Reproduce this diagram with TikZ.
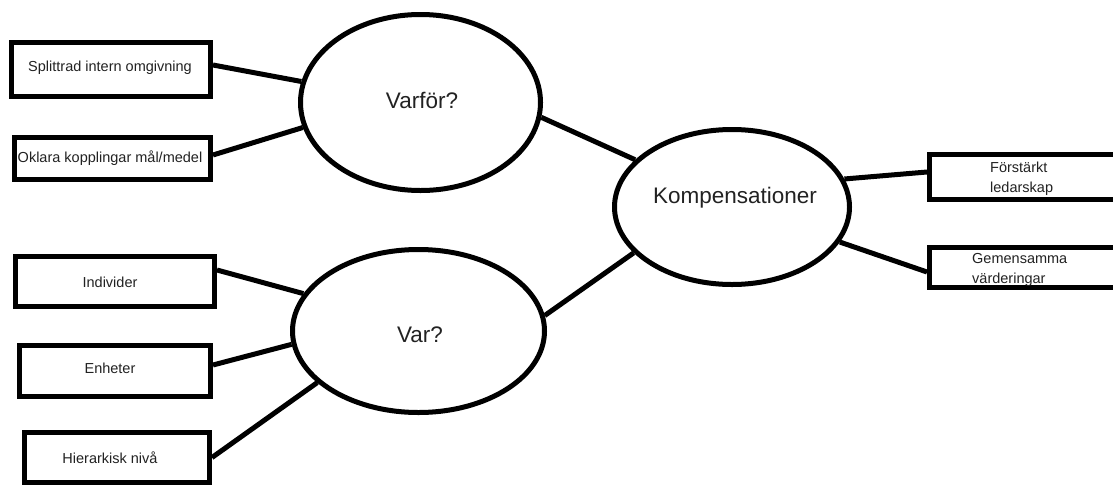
\documentclass[tikz,border=0pt]{standalone}
\usepackage{fontspec}
\setmainfont{Liberation Sans}
\usetikzlibrary{shapes.geometric}
\definecolor{txt}{HTML}{222222}
\begin{document}
\begin{tikzpicture}[x=1pt,y=-1pt,
  box/.style={draw=black,line width=5pt,rectangle,inner sep=0pt},
  oval/.style={draw=black,line width=5pt,ellipse,inner sep=0pt},
  link/.style={draw=black,line width=5pt},
  small/.style={text=txt,font=\fontsize{14.5}{20}\selectfont,inner sep=0pt},
  big/.style={text=txt,font=\fontsize{22.5}{26}\selectfont,inner sep=0pt}]
\clip (0,0) rectangle (1113,485);
\fill[white] (0,0) rectangle (1113,485);
% boxes left
\node[box,minimum width=199pt,minimum height=54pt] (b1) at (111,69.5) {};
\node[small] (t1) at (110,68) {Splittrad intern omgivning};
\node[box,minimum width=196pt,minimum height=42pt] (b2) at (112.5,158.5) {};
\node[small] (t2) at (110,158) {Oklara kopplingar mål/medel};
\node[box,minimum width=199pt,minimum height=50pt] (b3) at (115,281.5) {};
\node[small] (t3) at (110,282) {Individer};
\node[box,minimum width=191pt,minimum height=51pt] (b4) at (115,371) {};
\node[small] (t4) at (110,368) {Enheter};
\node[box,minimum width=185pt,minimum height=50pt] (b5) at (117,457.5) {};
\node[small] (t5) at (110,458) {Hierarkisk nivå};
% boxes right
\node[box,minimum width=200pt,minimum height=45pt] (b6) at (1029.5,177) {};
\node[small,anchor=base west] (t6a) at (990,172) {Förstärkt};
\node[small,anchor=base west] (t6b) at (990,192) {ledarskap};
\node[box,minimum width=200pt,minimum height=40pt] (b7) at (1029.5,267) {};
\node[small,anchor=base west] (t7a) at (972,263) {Gemensamma};
\node[small,anchor=base west] (t7b) at (972,283) {värderingar};
% ellipses
\node[oval,minimum width=240pt,minimum height=176pt] (varfor) at (420.5,102.5) {};
\node[big] (tv1) at (422,100) {Varför?};
\node[oval,minimum width=252pt,minimum height=163pt] (var) at (418.5,331) {};
\node[big] (tv2) at (420,335) {Var?};
\node[oval,minimum width=235pt,minimum height=155pt] (komp) at (732,207) {};
\node[big] (tk) at (735,198) {Kompensationer};
% connectors
\draw[link] ([yshift=4.5pt]b1.east) -- (varfor.170);
\draw[link] ([yshift=3.5pt]b2.east) -- (varfor.192);
\draw[link] ([yshift=11.5pt]b3.east) -- (var.162);
\draw[link] ([yshift=6pt]b4.east) -- (var.186);
\draw[link] (b5.east) -- (var.207);
\draw[link] (varfor.353) -- (komp.154);
\draw[link] (var.7) -- (komp.205);
\draw[link] (komp.14) -- ([yshift=5pt]b6.west);
\draw[link] (komp.342) -- ([yshift=-5pt]b7.west);
\end{tikzpicture}
\end{document}
